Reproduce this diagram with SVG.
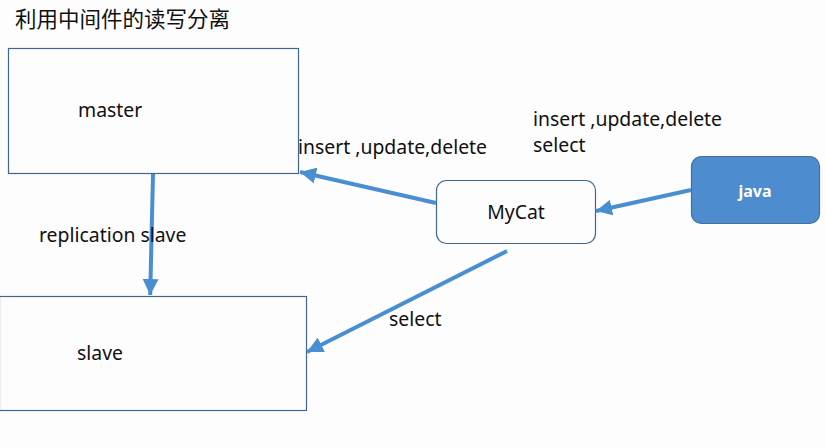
<svg xmlns="http://www.w3.org/2000/svg" width="826" height="447" viewBox="0 0 826 447">
<style>
text{font-family:"Noto Sans","Noto Sans CJK SC",sans-serif;fill:#111;font-size:19.4px}
.box{fill:#fdfdfd;stroke:#41678f;stroke-width:1.2}
.conn{stroke:#4a8ed2;stroke-width:4;fill:none;marker-end:url(#ah)}
</style>
<defs>
<marker id="ah" markerWidth="4" markerHeight="4" refX="4" refY="2" orient="auto" markerUnits="strokeWidth">
<path d="M0,0 L4,2 L0,4 z" fill="#4a8ed2"/>
</marker>
</defs>
<rect width="826" height="447" fill="#fdfdfd"/>
<text x="15" y="27" style="font-family:'Noto Sans CJK SC',sans-serif;font-size:21.5px">利用中间件的读写分离</text>
<g id="master"><rect class="box" x="8.5" y="48.5" width="290" height="125"/><text x="78" y="117">master</text></g>
<g id="slave"><rect class="box" x="-0.5" y="296.5" width="307" height="114"/><text x="77" y="360">slave</text></g>
<g id="mycat"><rect class="box" x="436.5" y="180.5" width="159" height="63" rx="10"/><text x="516" y="219" text-anchor="middle">MyCat</text></g>
<g id="java"><rect x="691.5" y="156.5" width="128" height="67" rx="10" fill="#4d8ccf" stroke="#41719c" stroke-width="1.2"/><text x="755" y="197" text-anchor="middle" style="fill:#fff;font-weight:bold;font-size:16px">java</text></g>
<g id="connectors">
<line class="conn" x1="153" y1="174" x2="150.2" y2="295"/>
<line class="conn" x1="436" y1="203" x2="300" y2="172"/>
<line class="conn" x1="691" y1="190" x2="596" y2="211"/>
<line class="conn" x1="507" y1="251" x2="307" y2="352"/>
</g>
<g id="labels">
<text x="298" y="154">insert ,update,delete</text>
<text x="533" y="126">insert ,update,delete</text>
<text x="533" y="152">select</text>
<text x="39" y="242">replication slave</text>
<text x="389" y="326">select</text>
</g>
</svg>
